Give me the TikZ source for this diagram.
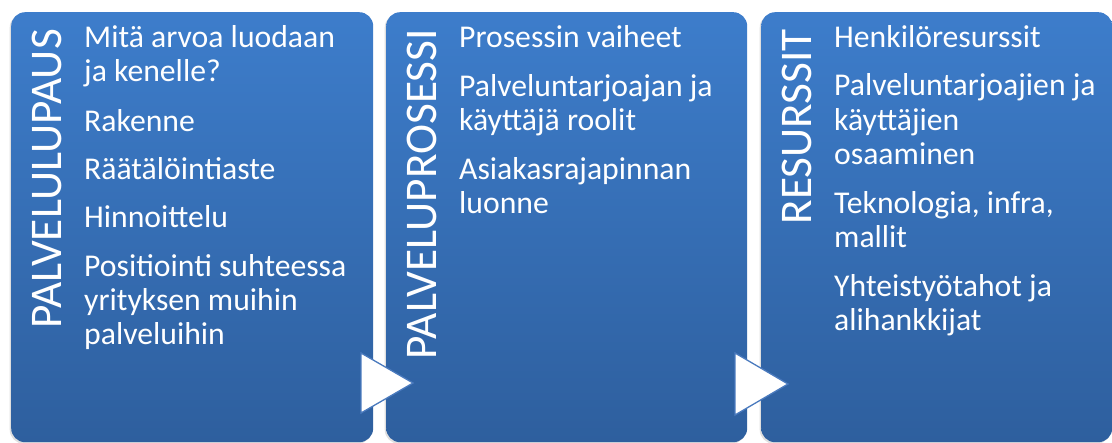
\documentclass[tikz,border=0pt]{standalone}
\usepackage{fontspec}
\setmainfont{Carlito}
\usetikzlibrary{shadows}
\definecolor{ptop}{RGB}{61,125,203}
\definecolor{pbot}{RGB}{46,95,158}
\definecolor{tribord}{RGB}{74,122,190}
\tikzset{
  panel/.style={anchor=north west, inner sep=0pt, rounded corners=14pt,
    top color=ptop, bottom color=pbot, draw=none,
    drop shadow={shadow xshift=-1.5pt, shadow yshift=-1.5pt, opacity=0.25}},
  ptitle/.style={rotate=90, anchor=base east, inner sep=0pt, text=white,
    font=\fontsize{45.3}{48}\selectfont},
  pitem/.style={anchor=base west, inner sep=0pt, text=white,
    font=\fontsize{31.7}{34}\selectfont},
  arrowtri/.style={fill=white, draw=tribord, line width=1.3pt, line join=miter}
}
\begin{document}
\begin{tikzpicture}[x=1pt,y=-1pt]
\useasboundingbox (0,0) rectangle (1112,443);
% panels
\node[panel, minimum width=362pt, minimum height=430pt] (p1) at (11,12) {};
\node[panel, minimum width=361pt, minimum height=430pt] (p2) at (386,12) {};
\node[panel, minimum width=351pt, minimum height=430pt] (p3) at (761,12) {};
% titles
\node[ptitle] (h1) at (61,29) {PALVELULUPAUS};
\node[ptitle] (h2) at (436,29) {PALVELUPROSESSI};
\node[ptitle] (h3) at (811,29) {RESURSSIT};
% panel 1 items
\node[pitem] (a1) at (84,48) {Mitä arvoa luodaan};
\node[pitem] (a2) at (84,82) {ja kenelle?};
\node[pitem] (a3) at (84,132) {Rakenne};
\node[pitem] (a4) at (84,180) {Räätälöintiaste};
\node[pitem] (a5) at (84,228) {Hinnoittelu};
\node[pitem] (a6) at (84,277) {Positiointi suhteessa};
\node[pitem] (a7) at (84,311) {yrityksen muihin};
\node[pitem] (a8) at (84,345) {palveluihin};
% panel 2 items
\node[pitem] (b1) at (459,48) {Prosessin vaiheet};
\node[pitem] (b2) at (459,97) {Palveluntarjoajan ja};
\node[pitem] (b3) at (459,131) {käyttäjä roolit};
\node[pitem] (b4) at (459,180) {Asiakasrajapinnan};
\node[pitem] (b5) at (459,214) {luonne};
% panel 3 items
\node[pitem] (c1) at (834,48) {Henkilöresurssit};
\node[pitem] (c2) at (834,96) {Palveluntarjoajien ja};
\node[pitem] (c3) at (834,131) {käyttäjien};
\node[pitem] (c4) at (834,165) {osaaminen};
\node[pitem] (c5) at (834,214) {Teknologia, infra,};
\node[pitem] (c6) at (834,248) {mallit};
\node[pitem] (c7) at (834,297) {Yhteistyötahot ja};
\node[pitem] (c8) at (834,331) {alihankkijat};
% arrows
\draw[arrowtri] (361,353) -- (413,383) -- (361,413) -- cycle;
\draw[arrowtri] (735,353) -- (788,384) -- (735,415) -- cycle;
\end{tikzpicture}
\end{document}
